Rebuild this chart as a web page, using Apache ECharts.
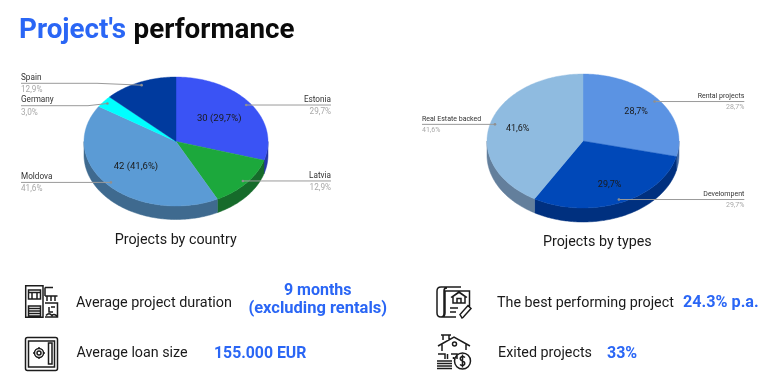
<!DOCTYPE html>
<html><head><meta charset="utf-8">
<style>html,body{margin:0;padding:0;background:#fff}#c{width:771px;height:388px}</style>
<script src="https://cdn.jsdelivr.net/npm/echarts@6/dist/echarts.min.js"></script>
</head><body><div id="c"></div>
<script>
// ---- data
const countryNames = ['Estonia', 'Latvia', 'Moldova', 'Germany', 'Spain'];
const countryProjects = [30, 13, 42, 3, 13];
const countryInnerLabels = ['30 (29,7%)', '', '42 (41,6%)', '', ''];
const typeNames = ['Rental projects', 'Develompent', 'Real Estate backed'];
const typeProjects = [29, 30, 42];
const typeInnerLabels = ['28,7%', '29,7%', '41,6%'];
const countryColors = ['#3a53f5', '#1ca83c', '#5b9bd5', '#00ffff', '#003a9e'];
const countryWalls = ['#2437a8', '#166b2b', '#3f6a8f', '#00b0b0', '#002a70'];
const typeColors = ['#5b93e3', '#0048b8', '#8fbbe0'];
const typeWalls = ['#3f66a0', '#00307f', '#637f9c'];

const FONT = 'Roboto';
const BLUE = '#2a66f5';

// ---- layout
const pies = [
  {id: 0, cx: 176, cy: 141.5, rx: 92, ry: 64.5, depth: 13.5, names: countryNames, values: countryProjects,
   inner: countryInnerLabels, colors: countryColors, walls: countryWalls, innerR: 0.585, labelSize: 8.2, innerSize: 9.5,
   nameDy: -5.3, pctDy: 6.9,
   leftEnd: 21, rightEnd: 331, leaderY: [null, null, null, 105.7, 83.3], elbowX: [null, null, null, 88, 97]},
  {id: 1, cx: 583, cy: 141, rx: 96, ry: 67, depth: 14, names: typeNames, values: typeProjects,
   inner: typeInnerLabels, colors: typeColors, walls: typeWalls, innerR: 0.705, labelSize: 7, innerSize: 9,
   nameDy: -5, pctDy: 5.6,
   leftEnd: 422, rightEnd: 744.3, leaderY: [null, null, null], elbowX: [null, null, null]}
];

function polar(a, r) { return [r * Math.sin(a), r * Math.cos(a)]; }

function renderSlice(pie) {
  const total = pie.values.reduce((s, v) => s + v, 0);
  const dy = pie.depth / pie.ry;
  return function (params, api) {
    const i = params.dataIndex;
    let before = 0;
    for (let k = 0; k < i; k++) before += pie.values[k];
    const a0 = before / total * 2 * Math.PI;
    const a1 = (before + pie.values[i]) / total * 2 * Math.PI;
    const mid = (a0 + a1) / 2;
    const children = [];
    const STEP = Math.PI / 180;

    // front wall
    const w0 = Math.max(a0, Math.PI / 2), w1 = Math.min(a1, Math.PI * 1.5);
    if (w1 > w0) {
      const up = [], down = [];
      for (let a = w0; a < w1; a += STEP) { up.push(polar(a, 1)); }
      up.push(polar(w1, 1));
      up.forEach(p => down.unshift([p[0], p[1] - dy]));
      const points = up.concat(down).map(p => api.coord(p));
      children.push({type: 'polygon', z2: 1, shape: {points},
        style: {fill: pie.walls[i], stroke: pie.walls[i], lineWidth: 0.5}});
    }

    // top face
    const face = [[0, 0]];
    for (let a = a0; a < a1; a += STEP) face.push(polar(a, 1));
    face.push(polar(a1, 1));
    children.push({type: 'polygon', z2: 2, shape: {points: face.map(p => api.coord(p))},
      style: {fill: pie.colors[i], stroke: pie.colors[i], lineWidth: 0.4}});

    // leader line and dot
    const dot = api.coord(polar(mid, 0.95));
    const onRight = Math.sin(mid) > 0;
    const endX = onRight ? pie.rightEnd : pie.leftEnd;
    const laneY = pie.leaderY[i] == null ? dot[1] : pie.leaderY[i];
    const line = [dot];
    if (pie.elbowX[i] != null) line.push([pie.elbowX[i], laneY]);
    line.push([endX, laneY]);
    children.push({type: 'polyline', z2: 3, shape: {points: line},
      style: {fill: null, stroke: '#9a9a9a', lineWidth: 1}});
    children.push({type: 'circle', z2: 3, shape: {cx: dot[0], cy: dot[1], r: 1.3},
      style: {fill: '#8f8f8f'}});

    // outside labels
    const pct = (pie.values[i] / total * 100).toFixed(1).replace('.', ',') + '%';
    const align = onRight ? 'right' : 'left';
    children.push({type: 'text', z2: 4, style: {text: pie.names[i], x: endX, y: laneY + pie.nameDy,
      align, verticalAlign: 'middle', fontSize: pie.labelSize, fontFamily: FONT, fill: '#333'}});
    children.push({type: 'text', z2: 4, style: {text: pct, x: endX, y: laneY + pie.pctDy,
      align, verticalAlign: 'middle', fontSize: pie.labelSize, fontFamily: FONT, fill: '#a8a8a8'}});

    // inner label
    if (pie.inner[i]) {
      const c = api.coord(polar(mid, pie.innerR));
      children.push({type: 'text', z2: 4, style: {text: pie.inner[i], x: c[0], y: c[1],
        align: 'center', verticalAlign: 'middle', fontSize: pie.innerSize, fontFamily: FONT, fill: '#1a1a1a'}});
    }
    return {type: 'group', children};
  };
}

function txt(text, x, y, size, opts) {
  opts = opts || {};
  return {type: 'text', x, y, z: 10, style: {text, fontFamily: opts.family || FONT, fontSize: size,
    fontWeight: opts.weight || 'normal', fill: opts.fill || '#1a1a1a',
    align: opts.align || 'left', verticalAlign: 'middle'}};
}

const iconLines = [
  // building plans
  'M25.7 285.7H43V317.3H25.7ZM28.5 290H40.5V299H28.5ZM28.5 292.5H40.5M32 292.5V299M37 292.5V299' +
  'M28.5 306H40.5V316H28.5ZM28.5 308.5H40.5M28.5 311H40.5M28.5 313.5H40.5' +
  'M45 287.5H53M45 287.5V296M45 296H57.5M47 296V301M51 296V301M55 296V301' +
  'M45 303H57.5V317H45M49 307V312H53M51 307H55M46 315.5C48 313 50 313 52 315.5C53 314 55 314 57 316',
  // safe
  'M27.5 337.5H55.5Q57.5 337.5 57.5 339.5V368.5Q57.5 370.5 55.5 370.5H27.5Q25.5 370.5 25.5 368.5V339.5Q25.5 337.5 27.5 337.5Z' +
  'M28.5 341H54.5V367H28.5ZM48.5 343H52V364H48.5Z' +
  'M43.5 353A4.5 4.5 0 1 1 34.5 353A4.5 4.5 0 1 1 43.5 353ZM41 353A2 2 0 1 1 37 353A2 2 0 1 1 41 353Z' +
  'M39 347V348.5M39 357.5V359M33 353H34.5M43.5 353H45',
  // contract with pen
  'M461 287H441Q437 287 437 291V313Q437 317 441 317Q444 317 444 313V290.5Q444 288 447 288' +
  'M447 291H469.5V307M448 291H445V313Q445 317 441 317H456' +
  'M453 303L453 296.5L459 292.5L465 296.5L465 303ZM457 303V298.5H461V303ZM451 297.5L459 292L467 297.5' +
  'M450 308H458M450 312H456M462 318L460 314.5L468 305.5L471 308.5L463 317.5Z',
  // house with coin
  'M438 346L454 337L470 346M442 344V351M466 344V350M443 340V335H449V340M441 335H451' +
  'M456.5 344A2 2 0 1 1 452.5 344A2 2 0 1 1 456.5 344Z' +
  'M438 354H445V359M447.5 354V359M451 354H457V359M453.5 357V359' +
  'M437 361H452M437 363.5H452M437 366H452M437 368.5H452' +
  'M470.5 361A8 8 0 1 1 454.5 361A8 8 0 1 1 470.5 361ZM465 357.5Q462.5 355.5 460.5 357.5Q459.5 360 462.5 361Q465.5 362 464.5 364.5Q462.5 366.5 460 364.5M462.5 354.5V367.5'
];

const option = {
  animation: false,
  backgroundColor: '#fff',
  title: {
    left: 19, top: 17.5, padding: 0,
    text: "{a|Project's} {b|performance}",
    textStyle: {rich: {
      a: {fontFamily: FONT, fontWeight: 'bold', fontSize: 27.8, color: BLUE},
      b: {fontFamily: FONT, fontWeight: 'bold', fontSize: 27.8, color: '#0a0a0a', padding: [0, 0, 0, 2.5]}
    }}
  },
  grid: pies.map(p => ({left: p.cx - p.rx, width: 2 * p.rx, top: p.cy - p.ry, height: 2 * p.ry + p.depth, show: false})),
  xAxis: pies.map((p, i) => ({type: 'value', gridIndex: i, min: -1, max: 1, show: false})),
  yAxis: pies.map((p, i) => ({type: 'value', gridIndex: i, min: -1 - p.depth / p.ry, max: 1, show: false})),
  series: pies.map((p, i) => ({
    type: 'custom', xAxisIndex: i, yAxisIndex: i, clip: false, silent: true,
    encode: {x: 0, y: 1},
    data: p.values.map((v, k) => ({name: p.names[k], value: [0, 0, v]})),
    renderItem: renderSlice(p)
  })).concat([{
    type: 'custom', coordinateSystem: 'none', silent: true,
    data: iconLines.map((d, k) => [k]),
    renderItem: (params) => ({type: 'path', shape: {pathData: iconLines[params.dataIndex]},
      style: {fill: 'none', stroke: '#1c1c1c', lineWidth: 1.5}})
  }]),
  graphic: {elements: [
    txt('Projects by country', 175.7, 240.5, 14.3, {align: 'center'}),
    txt('Projects by types', 597.3, 242.5, 14.3, {align: 'center'}),
    txt('Average project duration', 76, 303, 14.4),
    txt('9 months', 317.7, 290.7, 16, {weight: 'bold', fill: BLUE, align: 'center'}),
    txt('(excluding rentals)', 317.7, 308.7, 16.5, {weight: 'bold', fill: BLUE, align: 'center'}),
    txt('Average loan size', 76.5, 353.7, 14.3),
    txt('155.000 EUR', 214, 353.7, 15.8, {weight: 'bold', fill: BLUE}),
    txt('The best performing project', 497, 303, 14.3),
    txt('24.3% p.a.', 683, 303, 16.2, {weight: 'bold', fill: BLUE}),
    txt('Exited projects', 498, 353.7, 14.3),
    txt('33%', 607, 353.7, 16, {weight: 'bold', fill: BLUE})
  ]}
};
const chart = echarts.init(document.getElementById('c'));
chart.setOption(option);
</script></body></html>
